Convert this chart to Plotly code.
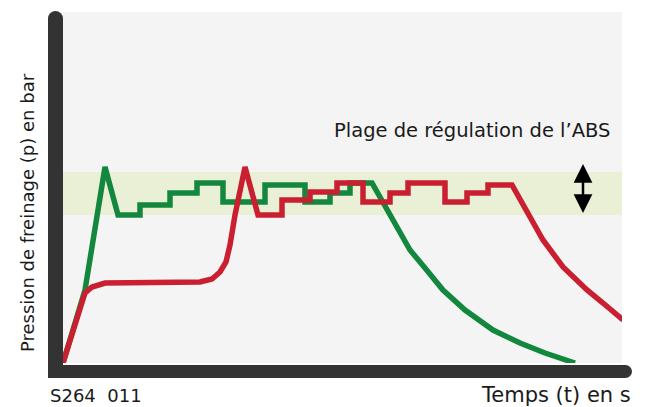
import plotly.graph_objects as go

# Readings in arbitrary units (time ticks, pressure ticks)
green_t = [0, 22, 42, 55, 77, 77, 107, 107, 134, 134, 160, 160, 202, 202, 242, 242, 267, 267,
           287, 287, 309, 316, 322, 334, 347, 362, 380, 402, 430, 457, 482, 512]
green_p = [0, 73, 196, 148, 148, 158, 158, 170, 170, 180, 180, 161, 161, 178, 178, 161, 161, 170,
           170, 180, 180, 168, 156, 135, 113, 95, 73, 53, 33, 20, 10, 0]

red_t = [0, 22, 29, 42, 137, 149, 157, 163, 167, 172, 182, 195, 219, 219, 247, 247, 274, 274,
         300, 300, 327, 327, 345, 345, 382, 382, 404, 404, 425, 425, 449, 456, 464, 480, 500,
         524, 540, 560]
red_p = [0, 70, 76, 80, 81, 84, 91, 101, 118, 148, 196, 148, 148, 163, 163, 171, 171, 180,
         180, 161, 161, 170, 170, 180, 180, 161, 161, 170, 170, 178, 178, 166, 153, 123, 96,
         73, 60, 43]

band_low, band_high = 148, 191
arrow_t, arrow_low, arrow_high = 520, 150, 199
t_max, p_max = 559, 351

GREEN = "#13873d"
RED = "#c91f30"
AXIS = "#333333"
FONT = "DejaVu Sans"

fig = go.Figure()

fig.add_scatter(x=green_t, y=green_p, mode="lines",
                line=dict(color=GREEN, width=5.5), hoverinfo="skip")
fig.add_scatter(x=red_t, y=red_p, mode="lines",
                line=dict(color=RED, width=5.5), hoverinfo="skip")

# regulation band
fig.add_shape(type="rect", xref="paper", yref="y", x0=0, x1=1, y0=band_low, y1=band_high,
              fillcolor="#eaf0d6", line_width=0, layer="below")

# thick axis bars (reference pixel -> paper: x=(px-63)/559, y=(363-py)/351)
def px_x(px):
    return (px - 63) / 559

def px_y(py):
    return (363 - py) / 351

shapes = [
    dict(type="rect", x0=px_x(48), x1=px_x(63), y0=px_y(378), y1=px_y(19)),
    dict(type="circle", x0=px_x(48), x1=px_x(63), y0=px_y(26), y1=px_y(11)),
    dict(type="rect", x0=px_x(48), x1=px_x(625), y0=px_y(378), y1=px_y(365)),
    dict(type="circle", x0=px_x(619), x1=px_x(632), y0=px_y(378), y1=px_y(365)),
]
for s in shapes:
    fig.add_shape(xref="paper", yref="paper", fillcolor=AXIS, line_width=0, **s)

# double arrow on the band
fig.add_shape(type="line", xref="x", yref="y", x0=arrow_t, x1=arrow_t,
              y0=arrow_low + 10, y1=arrow_high - 10, line=dict(color="black", width=2.5))
for tip, tail in ((arrow_high, arrow_high - 12), (arrow_low, arrow_low + 12)):
    fig.add_annotation(x=arrow_t, y=tip, ax=arrow_t, ay=tail, xref="x", yref="y",
                       axref="x", ayref="y", text="", showarrow=True, arrowhead=2,
                       arrowsize=1.5, arrowwidth=2.5, arrowcolor="black", standoff=0)


def label(text, x, y, size, xanchor="center", angle=0):
    fig.add_annotation(x=px_x(x), y=px_y(y), xref="paper", yref="paper", showarrow=False,
                       xanchor=xanchor, yanchor="middle", textangle=angle, text=text,
                       font=dict(family=FONT, size=size, color="#1a1a1a"))


label("Plage de régulation de l’ABS", 472, 130, 19.5)
label("Pression de freinage (p) en bar", 27, 213, 18)
label("S264  011", 48, 395, 18, xanchor="left")
label("Temps (t) en s", 633, 395, 21, xanchor="right")
fig.layout.annotations[-3].textangle = -90

# page body has an 8px margin, so the figure is 8px smaller than the window
fig.update_layout(
    width=640, height=399,
    margin=dict(l=55, r=26, t=4, b=44),
    paper_bgcolor="white", plot_bgcolor="#f4f4f4",
    showlegend=False,
)
fig.update_xaxes(range=[0, t_max], visible=False, fixedrange=True)
fig.update_yaxes(range=[0, p_max], visible=False, fixedrange=True)

fig.write_html("out.html", config={"displayModeBar": False})
